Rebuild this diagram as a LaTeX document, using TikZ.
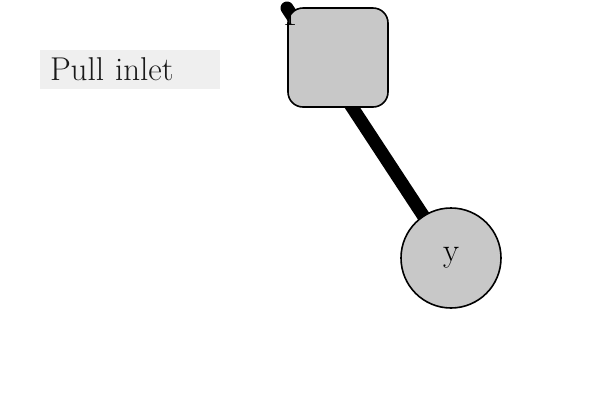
\documentclass[tikz,border=0pt]{standalone}
\usepackage{tikz}
\usetikzlibrary{backgrounds}
\definecolor{nodegray}{RGB}{200,200,200}
\definecolor{notegray}{RGB}{239,239,239}
\tikzset{
	big/.style={font=\fontsize{33}{38}\selectfont},
	link/.style={line width=13pt, line cap=round},
	shape line/.style={draw, line width=1.6pt, fill=nodegray},
}
\begin{document}
\begin{tikzpicture}[x=1pt, y=-1pt]
		\useasboundingbox (0,0) rectangle (600,400);
		\node[big, fill=notegray, text=black!90, text width=160pt, inner xsep=10pt, inner ysep=0pt, minimum height=39pt, align=left] (note) at (130,69.5) {Pull inlet};
		
		\coordinate (inlet) at (287,8);
		\node[big, shape line, circle, minimum size=100pt, inner sep=0pt] (y) at (451,258) {y};
		\node[shape line, rounded corners=15pt, minimum width=100pt, minimum height=99pt] (x) at (338,57.5) {};
		\begin{scope}[on background layer]
			\draw[link] (y.center) -- (inlet);
		\end{scope}
		\node[big, inner sep=0pt] (one) at (290,15) {1};
	\end{tikzpicture}
\end{document}
